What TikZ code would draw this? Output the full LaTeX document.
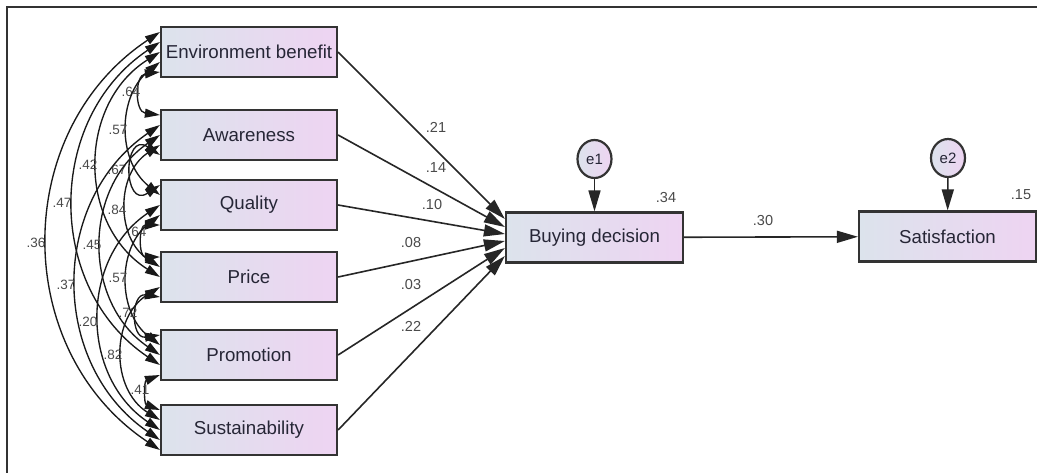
\documentclass[tikz,border=0pt]{standalone}
\usepackage{fontspec}
\setmainfont{Liberation Sans}
\usetikzlibrary{arrows.meta,calc,shapes.geometric}
\definecolor{boxL}{HTML}{DCE3EC}
\definecolor{boxR}{HTML}{EED4F2}
\definecolor{edge}{HTML}{333333}
\definecolor{txt}{HTML}{262636}
\definecolor{lab}{HTML}{4A4A4A}
\begin{document}
\begin{tikzpicture}[x=1pt,y=-1pt,
  var/.style={draw=edge, line width=2.2pt, left color=boxL, right color=boxR,
    minimum width=176pt, minimum height=50pt, inner sep=0pt, text=txt,
    font=\fontsize{18.7}{20}\selectfont},
  err/.style={ellipse, draw=edge, line width=2.2pt, left color=boxL, right color=boxR,
    minimum width=34pt, minimum height=38pt, inner sep=0pt, text=txt,
    font=\fontsize{15}{16}\selectfont},
  reg/.style={draw=black!85, line width=1.6pt, -{Triangle[length=21pt,width=12pt]}},
  cov/.style={draw=black!90, line width=1.35pt,
    {Triangle[length=15pt,width=9pt]}-{Triangle[length=15pt,width=9pt]}},
  coef/.style={text=lab, font=\fontsize{14.5}{15}\selectfont, inner sep=0pt},
  covlab/.style={text=lab, font=\fontsize{13.5}{14}\selectfont, inner sep=0pt}]
\useasboundingbox (0,0) rectangle (1037,472);
\fill[white] (0,0) rectangle (1037,472);
\draw[edge, line width=2pt] (7,480) -- (7,7) -- (1045,7);

% exogenous variables
\node[var] (EB)  at (249,52)  {Environment benefit};
\node[var] (Aw)  at (249,135) {Awareness};
\node[var] (Qu)  at (249,205) {Quality};
\node[var] (Pr)  at (249,277) {Price};
\node[var] (Pro) at (249,355) {Promotion};
\node[var] (Sus) at (249,430) {Sustainability};
% endogenous
\node[var, minimum width=177pt] (BD)  at (594.5,237.5) {Buying decision};
\node[var, minimum width=177pt] (Sat) at (947.5,236.5) {Satisfaction};
\node[err] (e1) at (594.5,159) {e1};
\node[err] (e2) at (948,158) {e2};

% attachment points for covariances
\foreach \v/\list in {EB/{Sus,Pro,Pr,Qu,Aw}, Aw/{EB,Sus,Pro,Pr,Qu},
  Qu/{Aw,EB,Sus,Pro,Pr}, Pr/{Qu,Aw,EB,Sus,Pro}, Pro/{Pr,Qu,Aw,EB,Sus},
  Sus/{Pro,Pr,Qu,Aw,EB}}{
  \foreach \w [count=\k] in \list {
    \coordinate (\v-\w) at ($(\v.west)+(0,{(\k-3)*10})$);
  }
}

% covariance arcs
\foreach \a/\b/\ya/\yb/\s/\val/\lx/\ly in {
  EB-Aw/Aw-EB/72/115/19/.64/131/92,
  EB-Qu/Qu-EB/62/195/32/.57/118/130,
  EB-Pr/Pr-EB/52/277/62/.42/88/165,
  EB-Pro/Pro-EB/42/365/86/.47/62/203,
  EB-Sus/Sus-EB/32/450/112/.36/36/243,
  Aw-Qu/Qu-Aw/155/185/28/.67/117/170,
  Aw-Pr/Pr-Aw/145/267/33/.84/117/210,
  Aw-Pro/Pro-Aw/135/355/58/.45/92/245,
  Aw-Sus/Sus-Aw/125/440/83/.37/66/285,
  Qu-Pr/Pr-Qu/225/257/16/.64/137/232,
  Qu-Pro/Pro-Qu/215/345/32/.57/118/278,
  Qu-Sus/Sus-Qu/205/430/60/.20/88/322,
  Pr-Pro/Pro-Pr/297/335/22/.72/128/313,
  Pr-Sus/Sus-Pr/287/420/37/.82/113/355,
  Pro-Sus/Sus-Pro/375/410/12/.41/140/390}{
  \pgfmathsetmacro\ctlx{\s/0.75}
  \pgfmathsetmacro\ctly{\ctlx*cot(2*atan(2*\s/(\yb-\ya)))}
  \draw[cov] (\a) .. controls ($(\a)+(-\ctlx,\ctly)$) and ($(\b)+(-\ctlx,-\ctly)$) .. (\b);
  \node[covlab] (lab-\a) at (\lx,\ly) {\val};
}

% regression paths
\foreach \v/\dy in {EB/-18.5, Aw/-10.5, Qu/-3.5, Pr/3.5, Pro/10.5, Sus/18.5}{
  \coordinate (BD-\v) at ($(BD.west)+(0,\dy)$);
  \draw[reg] (\v.east) -- (BD-\v);
}
\node[coef] (c1) at (436,127) {.21};
\node[coef] (c2) at (436,168) {.14};
\node[coef] (c3) at (432,205) {.10};
\node[coef] (c4) at (411,243) {.08};
\node[coef] (c5) at (411,285) {.03};
\node[coef] (c6) at (411,326) {.22};

\draw[reg] (e1) -- (BD);
\draw[reg] (e2) -- (Sat);
\draw[reg] (BD) -- (Sat);
\node[coef] (c7) at (763,221) {.30};
\node[coef] (r1) at (666,198) {.34};
\node[coef] (r2) at (1021,195) {.15};
\end{tikzpicture}
\end{document}
